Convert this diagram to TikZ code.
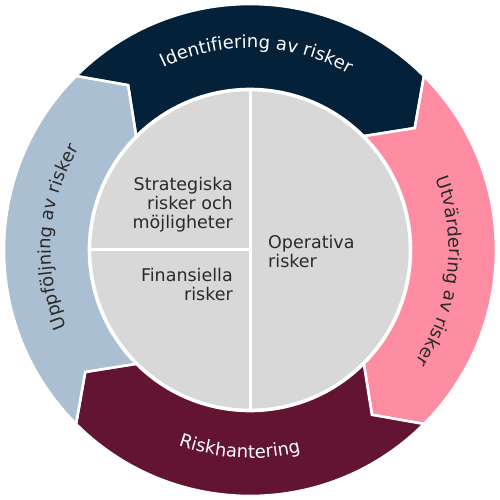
\documentclass[tikz,border=0pt]{standalone}
\usepackage{fontspec}
\setmainfont{DejaVu Sans}
\usetikzlibrary{decorations.text}
\definecolor{idnavy}{HTML}{04213A}
\definecolor{utvpink}{HTML}{FE8DA3}
\definecolor{hantmaroon}{HTML}{621432}
\definecolor{uppblue}{HTML}{AABFD2}
\definecolor{coregrey}{HTML}{D8D8D8}
\definecolor{textdark}{HTML}{2A2A2A}
\newcommand\ringfont{\fontsize{18}{20}\selectfont}
\tikzset{
  ringpart/.style={draw=white,line width=2.6pt,line join=miter},
  corelabel/.style={inner sep=0pt,align=right,text=textdark,font=\fontsize{17.5}{19}\selectfont},
}

\begin{document}
\begin{tikzpicture}[x=1pt,y=1pt]
\useasboundingbox[fill=white] (-250,-250) rectangle (250,250);
% Drawing ring parts
% Part 1: Identifiering av risker
\filldraw[ringpart,fill=idnavy] (135:246) arc[start angle=135,end angle=45,radius=246] -- (36.5:205) -- (45:161) arc[start angle=45,end angle=135,radius=161] -- (126.5:205) -- cycle;
% Part 2: Utvärdering av risker
\filldraw[ringpart,fill=utvpink] (45:246) arc[start angle=45,end angle=-45,radius=246] -- (-53.5:205) -- (-45:161) arc[start angle=-45,end angle=45,radius=161] -- (36.5:205) -- cycle;
% Part 3: Riskhantering
\filldraw[ringpart,fill=hantmaroon] (-45:246) arc[start angle=-45,end angle=-135,radius=246] -- (-143.5:205) -- (-135:161) arc[start angle=-135,end angle=-45,radius=161] -- (-53.5:205) -- cycle;
% Part 4: Uppföljning av risker
\filldraw[ringpart,fill=uppblue] (225:246) arc[start angle=225,end angle=135,radius=246] -- (126.5:205) -- (135:161) arc[start angle=135,end angle=225,radius=161] -- (216.5:205) -- cycle;
% Done with ring parts; drawing ring labels
\path[decorate,decoration={text along path,text align=center,text={|\ringfont\color{white}|Identifiering av risker}}] (148:202) arc[start angle=148,end angle=28,radius=202];
\path[decorate,decoration={text along path,text align=center,text={|\ringfont\color{textdark}|Utvärdering av risker}}] (53.5:199) arc[start angle=53.5,end angle=-66.5,radius=199];
\path[decorate,decoration={text along path,text align=center,text={|\ringfont\color{white}|Riskhantering}}] (207:208) arc[start angle=207,end angle=327,radius=208];
\path[decorate,decoration={text along path,text align=center,text={|\ringfont\color{textdark}|Uppföljning av risker}}] (236:199) arc[start angle=236,end angle=116,radius=199];
% Done with ring labels; drawing core circle
\filldraw[fill=coregrey,draw=white,line width=2.6pt] (0,0) circle[radius=160];
\draw[white,line width=3pt] (0,160) -- (0,-160);
\draw[white,line width=3pt] (-160,0) -- (0,0);
\node[corelabel,anchor=base east] (strat) at (-17,21) {Strategiska\\risker och\\möjligheter};
\node[corelabel,anchor=base east] (fin) at (-17,-51) {Finansiella\\risker};
\node[corelabel,align=left,anchor=base west] (oper) at (18,-18) {Operativa\\risker};
% Done with core circle
\end{tikzpicture}
\end{document}
